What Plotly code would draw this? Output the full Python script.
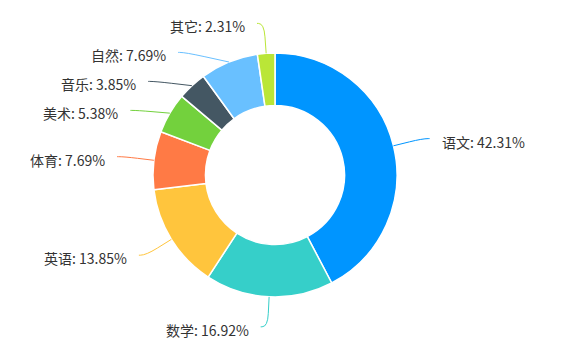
import math
import plotly.graph_objects as go

# ---- data ----
labels = ["语文", "数学", "英语", "体育", "美术", "音乐", "自然", "其它"]
values = [55, 22, 18, 10, 7, 5, 10, 3]
colors = ["#0095FF", "#36CFC9", "#FFC53D", "#FF7A45", "#73D13D", "#445763", "#69C0FF", "#BAE637"]

# ---- layout parameters ----
W, H = 580, 352
CX, CY = 275, 175
R_OUT = 122
HOLE = 0.57
LEN1 = 30      # first leader segment (radial)
LEN2 = 7       # second leader segment (horizontal)
GAP = 10       # gap between leader end and text
LABEL_H = 29   # min vertical spacing between labels
FONT = "Noto Sans CJK SC, Microsoft YaHei, sans-serif"

total = sum(values)
pcts = [v / total * 100 for v in values]

# mid angles (clockwise from 12 o'clock)
mids = []
acc = 0
for v in values:
    mids.append((acc + v / 2) / total * 2 * math.pi)
    acc += v

RL = R_OUT + LEN1
items = []
for i, a in enumerate(mids):
    s, c = math.sin(a), math.cos(a)
    d = 1 if s >= 0 else -1
    items.append(dict(i=i, dir=d, p0=(CX + R_OUT * s, CY - R_OUT * c), y=CY - RL * c))

# avoid overlap per side (shift downward, like echarts shiftLayout)
for side in (1, -1):
    grp = sorted([it for it in items if it["dir"] == side], key=lambda t: t["y"])
    last_bottom = -1e9
    for it in grp:
        top = it["y"] - LABEL_H / 2
        if top < last_bottom:
            it["y"] = last_bottom + LABEL_H / 2
        last_bottom = it["y"] + LABEL_H / 2
for it in items:
    dy = it["y"] - CY
    it["x"] = CX + it["dir"] * math.sqrt(max(RL * RL - dy * dy, 0))

fig = go.Figure()
fig.add_trace(go.Pie(
    labels=labels, values=values, sort=False, direction="clockwise", rotation=0,
    hole=HOLE, textinfo="none", hoverinfo="skip",
    marker=dict(colors=colors, line=dict(color="#ffffff", width=1.5)),
    domain=dict(x=[(CX - R_OUT) / W, (CX + R_OUT) / W],
                y=[(H - CY - R_OUT) / H, (H - CY + R_OUT) / H]),
    showlegend=False,
))

annotations = []
shapes = []
for it in items:
    i = it["i"]
    x0, y0 = it["p0"]
    x1, y1 = it["x"], it["y"]
    x2 = x1 + it["dir"] * LEN2
    t = 0.45
    ax, ay = x1 - t * (x1 - x0), y1 - t * (y1 - y0)
    bx, by = x1 + 0.8 * (x2 - x1), y1
    path = (f"M {x0:.2f},{y0:.2f} L {ax:.2f},{ay:.2f} "
            f"Q {x1:.2f},{y1:.2f} {bx:.2f},{by:.2f} L {x2:.2f},{y1:.2f}")
    shapes.append(dict(type="path", path=path, xref="x", yref="y",
                       line=dict(color=colors[i], width=1), layer="above"))
    annotations.append(dict(
        x=x2 + it["dir"] * GAP, y=y1 + 3, xref="x", yref="y",
        text=f"{labels[i]}: {pcts[i]:.2f}%", showarrow=False,
        xanchor="left" if it["dir"] > 0 else "right", yanchor="middle",
        font=dict(family=FONT, size=14, color="#333333"),
    ))

fig.update_layout(
    width=W, height=H, autosize=False,
    margin=dict(l=0, r=0, t=0, b=0, pad=0),
    paper_bgcolor="#ffffff", plot_bgcolor="rgba(0,0,0,0)",
    xaxis=dict(range=[0, W], visible=False, fixedrange=True, domain=[0, 1]),
    yaxis=dict(range=[H, 0], visible=False, fixedrange=True, domain=[0, 1]),
    annotations=annotations, shapes=shapes,
    hovermode=False,
)

fig.write_html("out.html")
